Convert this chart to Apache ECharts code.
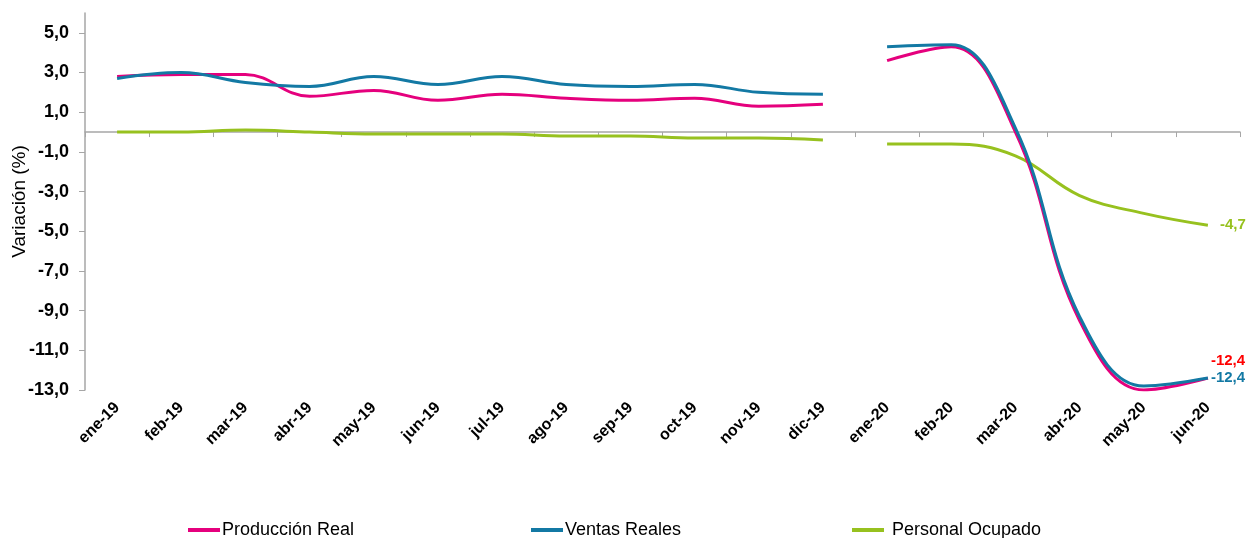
<!DOCTYPE html>
<html>
<head>
<meta charset="utf-8">
<title>Variación</title>
<script src="https://cdn.jsdelivr.net/npm/echarts@6/dist/echarts.min.js"></script>
<style>
  html, body { margin: 0; padding: 0; background: #fff; }
  #chart { width: 1250px; height: 538px; }
</style>
</head>
<body>
<div id="chart"></div>
<script>
// categorias del eje x
const meses = ['ene-19', 'feb-19', 'mar-19', 'abr-19', 'may-19', 'jun-19', 'jul-19', 'ago-19',
  'sep-19', 'oct-19', 'nov-19', 'dic-19', 'ene-20', 'feb-20', 'mar-20', 'abr-20', 'may-20', 'jun-20'];

// valores (%)
const produccion2019 = [2.8, 2.9, 2.9, 1.8, 2.1, 1.6, 1.9, 1.7, 1.6, 1.7, 1.3, 1.4];
const produccion2020 = [3.6, 4.3, 0.0, -9.5, -13.0, -12.4];
const ventas2019 = [2.7, 3.0, 2.5, 2.3, 2.8, 2.4, 2.8, 2.4, 2.3, 2.4, 2.0, 1.9];
const ventas2020 = [4.3, 4.4, 0.2, -9.3, -12.8, -12.4];
const personal2019 = [0.0, 0.0, 0.1, 0.0, -0.1, -0.1, -0.1, -0.2, -0.2, -0.3, -0.3, -0.4];
const personal2020 = [-0.6, -0.6, -1.2, -3.2, -4.1, -4.7];

const yTicks = [-13, -11, -9, -7, -5, -3, -1, 1, 3, 5];

const colorProd = '#E5007D';
const colorVentas = '#1379A4';
const colorPersonal = '#97C11F';

const fmt = v => Number(v).toFixed(1).replace('.', ',');

// rellena con null para separar 2019 y 2020
function tramo2019(arr) { return arr.concat(new Array(6).fill(null)); }
function tramo2020(arr) { return new Array(12).fill(null).concat(arr); }

function linea(name, color, data, endLabel) {
  return {
    name: name,
    type: 'line',
    xAxisIndex: 0,
    data: data,
    smooth: 0.4,
    showSymbol: false,
    symbol: 'none',
    lineStyle: { color: color, width: 3 },
    itemStyle: { color: color },
    endLabel: endLabel || { show: false },
    emphasis: { disabled: true },
    z: 3
  };
}

const labelFont = { fontFamily: 'Liberation Sans', fontWeight: 'bold', fontSize: 15 };
const legendText = { fontFamily: 'Liberation Sans', fontSize: 18, color: '#000' };

const chart = echarts.init(document.getElementById('chart'));
const option = {
  backgroundColor: '#fff',
  animation: false,
  grid: { left: 85, right: 10, top: 13, bottom: 148, outerBoundsMode: 'none', containLabel: false },
  legend: [
    {
      data: ['Producción Real'], left: 183, top: 516,
      icon: 'rect', itemWidth: 32, itemHeight: 4,
      textStyle: Object.assign({ padding: [0, 0, 0, -3] }, legendText)
    },
    {
      data: ['Ventas Reales'], left: 526, top: 516,
      icon: 'rect', itemWidth: 32, itemHeight: 4,
      textStyle: Object.assign({ padding: [0, 0, 0, -3] }, legendText)
    },
    {
      data: ['Personal Ocupado'], left: 847, top: 516,
      icon: 'rect', itemWidth: 32, itemHeight: 4,
      textStyle: Object.assign({ padding: [0, 0, 0, 3] }, legendText)
    }
  ],
  xAxis: [
    {
      // linea del cero con marcas
      type: 'category',
      data: meses,
      boundaryGap: true,
      axisLine: { onZero: true, lineStyle: { color: '#a6a6a6', width: 1.5 } },
      axisTick: { show: true, length: 5, lineStyle: { color: '#a6a6a6' } },
      axisLabel: { show: false },
      splitLine: { show: false }
    },
    {
      // etiquetas abajo
      type: 'category',
      data: meses,
      position: 'bottom',
      boundaryGap: true,
      axisLine: { show: false, onZero: false },
      axisTick: { show: false },
      axisLabel: {
        rotate: 45, margin: 15, color: '#000',
        fontFamily: 'Liberation Sans', fontWeight: 'bold', fontSize: 16
      },
      splitLine: { show: false }
    }
  ],
  yAxis: {
    type: 'value',
    min: -13,
    max: 6,
    name: 'Variación (%)',
    nameLocation: 'middle',
    nameGap: 56,
    nameMoveOverlap: false,
    nameTextStyle: { fontFamily: 'Liberation Sans', fontSize: 19, color: '#000' },
    axisLine: { show: true, lineStyle: { color: '#a6a6a6', width: 1.5 } },
    axisTick: { show: true, length: 6, customValues: yTicks, lineStyle: { color: '#a6a6a6' } },
    axisLabel: {
      customValues: yTicks,
      formatter: fmt,
      margin: 16,
      color: '#000',
      fontFamily: 'Liberation Sans', fontWeight: 'bold', fontSize: 18
    },
    splitLine: { show: false }
  },
  series: [
    linea('Producción Real', colorProd, tramo2019(produccion2019)),
    linea('Ventas Reales', colorVentas, tramo2019(ventas2019)),
    linea('Personal Ocupado', colorPersonal, tramo2019(personal2019)),
    linea('Personal Ocupado', colorPersonal, tramo2020(personal2020), Object.assign({
      show: true, distance: 12, color: colorPersonal, formatter: p => fmt(p.value)
    }, labelFont)),
    linea('Producción Real', colorProd, tramo2020(produccion2020), Object.assign({
      show: true, distance: 3, offset: [0, -17], color: '#FF0000', formatter: p => fmt(p.value)
    }, labelFont)),
    linea('Ventas Reales', colorVentas, tramo2020(ventas2020), Object.assign({
      show: true, distance: 3, color: colorVentas, formatter: p => fmt(p.value)
    }, labelFont))
  ]
};
chart.setOption(option);
window.addEventListener('resize', () => chart.resize());
</script>
</body>
</html>
